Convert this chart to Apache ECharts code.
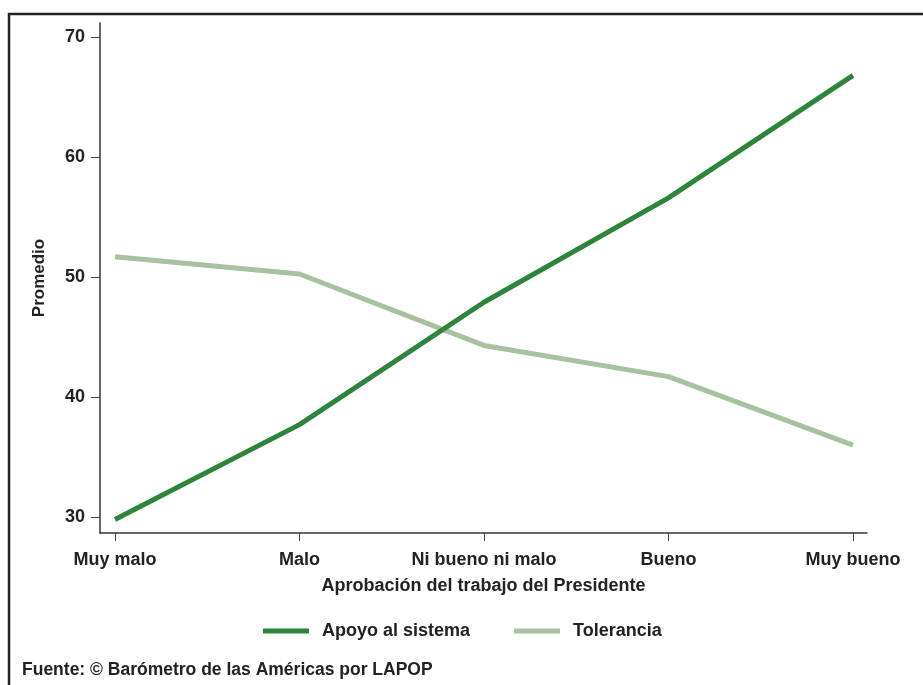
<!DOCTYPE html>
<html><head><meta charset="utf-8">
<script src="https://cdn.jsdelivr.net/npm/echarts@6/dist/echarts.min.js"></script>
<style>html,body{margin:0;padding:0;background:#fff}#c{width:923px;height:685px}</style>
</head><body><div id="c"></div>
<script>
const categories = ["Muy malo", "Malo", "Ni bueno ni malo", "Bueno", "Muy bueno"];
const apoyo = [29.8, 37.7, 47.9, 56.6, 66.8];
const tolerancia = [51.7, 50.25, 44.3, 41.7, 36.0];
const yTicks = [30, 40, 50, 60, 70];
const seriesNames = ["Apoyo al sistema", "Tolerancia"];

const chart = echarts.init(document.getElementById('c'), null, {renderer: 'canvas'});
const font = "'Liberation Sans', Arial, sans-serif";
const txt = '#222';
const fs = 18;
chart.setOption({
  animation: false,
  backgroundColor: '#fff',
  graphic: [
    {type: 'rect', shape: {x: 9, y: 14, width: 940, height: 700}, style: {fill: 'none', stroke: '#222', lineWidth: 2.5}, z: 100},
    {type: 'text', left: 22, top: 661, style: {text: 'Fuente: © Barómetro de las Américas por LAPOP', font: "bold 17.5px " + font, fill: txt}}
  ],
  grid: {left: 100, right: 923 - 867, top: 23, bottom: 685 - 533, containLabel: false},
  legend: {
    data: seriesNames, top: 617, left: 258, itemWidth: 46, itemHeight: 5, itemGap: 44,
    icon: 'rect',
    textStyle: {fontFamily: font, fontWeight: 'bold', fontSize: fs, color: txt, padding: [0, 0, 0, 8]}
  },
  xAxis: {
    type: 'value', min: -0.081, max: 4.076,
    name: 'Aprobación del trabajo del Presidente', nameLocation: 'middle', nameGap: 44,
    nameTextStyle: {fontFamily: font, fontWeight: 'bold', fontSize: fs, color: txt},
    axisLine: {show: true, onZero: false, lineStyle: {color: '#333', width: 1.5}},
    axisTick: {show: true, length: 8, customValues: [0,1,2,3,4], lineStyle: {color: '#444', width: 1}},
    axisLabel: {customValues: [0,1,2,3,4], formatter: v => categories[Math.round(v)], fontFamily: font, fontWeight: 'bold', fontSize: fs, color: txt, margin: 18},
    splitLine: {show: false}
  },
  yAxis: {
    type: 'value', min: 28.67, max: 71.17,
    name: 'Promedio', nameLocation: 'middle', nameGap: 52, nameRotate: 90,
    nameTextStyle: {fontFamily: font, fontWeight: 'bold', fontSize: 17, color: txt},
    axisLine: {show: true, onZero: false, lineStyle: {color: '#333', width: 1.5}},
    axisTick: {show: true, length: 9, customValues: yTicks, lineStyle: {color: '#444', width: 1}},
    axisLabel: {customValues: yTicks, fontFamily: font, fontWeight: 'bold', fontSize: fs, color: txt, margin: 15},
    splitLine: {show: false}
  },
  series: [
    {name: seriesNames[0], type: 'line', data: apoyo.map((v,i)=>[i,v]), symbol: 'none', color: '#2e843c', lineStyle: {width: 5, color: '#2e843c'}},
    {name: seriesNames[1], type: 'line', data: tolerancia.map((v,i)=>[i,v]), symbol: 'none', color: '#a8c19f', lineStyle: {width: 5, color: '#a8c19f'}, z: 1}
  ]
});
</script></body></html>
